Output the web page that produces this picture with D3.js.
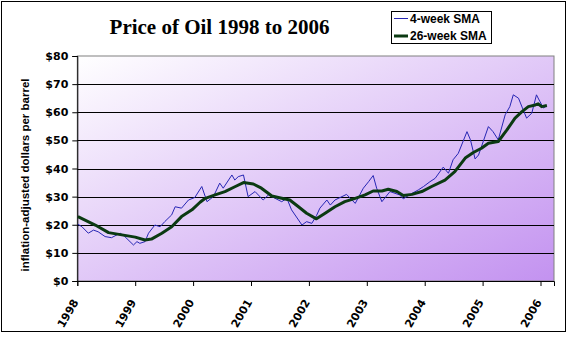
<!DOCTYPE html>
<html><head><meta charset="utf-8">
<script src="https://cdn.jsdelivr.net/npm/d3@7"></script>
<style>html,body{margin:0;padding:0;background:#fff;}svg{display:block;}</style>
</head><body>
<svg id="chart" width="569" height="337"></svg>
<script>
// ---- data ----
const titleText = "Price of Oil 1998 to 2006";
const yAxisTitle = "inflation-adjusted dollars per barrel";
const seriesNames = ["4-week SMA", "26-week SMA"];
const yearTicks = [1998, 1999, 2000, 2001, 2002, 2003, 2004, 2005, 2006];
const priceTicks = [0, 10, 20, 30, 40, 50, 60, 70, 80];

const sma4Years = [1998.01,1998.08,1998.19,1998.28,1998.36,1998.48,1998.59,1998.74,1998.82,1998.97,
  1999.03,1999.08,1999.17,1999.23,1999.34,1999.43,1999.51,1999.63,1999.69,1999.80,1999.92,
  2000.03,2000.15,2000.24,2000.35,2000.46,2000.52,2000.67,2000.72,2000.78,2000.87,2000.95,
  2001.07,2001.21,2001.30,2001.53,2001.62,2001.70,2001.88,2001.96,
  2002.05,2002.13,2002.19,2002.31,2002.37,2002.45,2002.65,2002.80,2002.94,
  2003.03,2003.11,2003.17,2003.26,2003.40,2003.57,2003.63,2003.75,2003.89,2003.98,
  2004.09,2004.18,2004.32,2004.41,2004.49,2004.58,2004.73,2004.79,2004.87,2004.93,
  2005.10,2005.18,2005.27,2005.39,2005.47,2005.53,2005.62,2005.70,2005.76,2005.85,2005.93,2005.99,
  2006.05,2006.11];
const sma4Values = [20.2,19.3,17.0,18.1,17.5,15.8,15.4,17.0,15.8,12.8,
  14.0,13.4,14.0,17.0,19.9,19.3,21.1,23.5,26.4,25.9,28.8,
  29.7,33.6,28.2,30.0,34.8,33.0,37.7,35.9,37.1,37.7,30.0,
  31.8,28.8,30.6,28.2,29.4,25.3,19.9,21.1,
  20.5,23.2,25.9,28.8,27.0,28.8,30.8,27.6,33.0,
  35.3,37.5,33.0,28.2,31.8,30.6,29.2,30.8,32.4,33.6,
  35.3,36.5,40.5,38.3,43.1,45.4,53.1,50.2,43.4,44.8,
  54.9,53.1,50.2,59.1,62.0,66.2,65.0,60.9,57.9,59.7,66.2,63.8,
  61.5,62.3];

const sma26Years = [1998.01,1998.31,1998.54,1998.77,1999.00,1999.17,1999.28,1999.46,1999.63,1999.80,1999.98,
  2000.12,2000.21,2000.38,2000.55,2000.73,2000.87,2001.04,2001.18,2001.36,2001.53,2001.67,2001.82,2001.96,
  2002.13,2002.28,2002.45,2002.62,2002.80,2002.97,2003.11,2003.26,2003.37,2003.52,2003.63,2003.78,2003.95,
  2004.12,2004.35,2004.52,2004.70,2004.84,2004.98,2005.10,2005.27,2005.42,2005.56,2005.68,2005.79,2005.91,
  2005.96,2006.02,2006.11];
const sma26Values = [22.9,19.9,17.2,16.4,15.6,14.6,14.9,17.0,19.3,22.9,25.3,
  28.0,29.4,30.6,31.8,33.6,35.0,34.5,33.0,30.2,29.4,28.8,26.4,24.1,
  22.1,24.1,26.4,28.2,29.4,30.6,32.0,32.0,32.6,31.8,30.4,30.8,31.8,
  33.6,35.9,38.9,43.7,45.7,47.2,49.0,49.6,53.7,57.9,60.2,62.0,62.6,
  63.0,62.0,62.4];

// ---- drawing ----
const svg = d3.select("#chart");
const plot = {left: 77.3, right: 554, top: 56, bottom: 281};
const x = d3.scaleLinear().domain([1998, 2006.233]).range([plot.left, plot.right]);
const y = d3.scaleLinear().domain([0, 80]).range([plot.bottom, plot.top]);

const defs = svg.append("defs");
const grad = defs.append("linearGradient").attr("id", "bg")
  .attr("x1", 0).attr("y1", 0).attr("x2", 1).attr("y2", 1);
grad.append("stop").attr("offset", "0%").attr("stop-color", "#ffffff");
grad.append("stop").attr("offset", "100%").attr("stop-color", "#c392f0");

// outer border
svg.append("rect").attr("x", 1.5).attr("y", 1.5).attr("width", 564).attr("height", 330)
  .attr("fill", "#fff").attr("stroke", "#000").attr("stroke-width", 1);

// plot area
svg.append("rect").attr("x", plot.left).attr("y", plot.top)
  .attr("width", plot.right - plot.left).attr("height", plot.bottom - plot.top)
  .attr("fill", "url(#bg)").attr("stroke", "#808080").attr("stroke-width", 1);

// gridlines
svg.append("g").selectAll("line").data(priceTicks.filter(d => d > 0 && d < 80)).join("line")
  .attr("x1", plot.left).attr("x2", plot.right)
  .attr("y1", d => Math.round(y(d)) + 0.5).attr("y2", d => Math.round(y(d)) + 0.5)
  .attr("stroke", "#000").attr("stroke-width", 1);

// y axis
const yAxis = svg.append("g").attr("transform", `translate(${plot.left},0)`)
  .call(d3.axisLeft(y).tickValues(priceTicks).tickSize(5).tickPadding(4).tickFormat(d => "$" + d));
yAxis.select(".domain").attr("stroke", "#000");
yAxis.selectAll("text").attr("font-family", "DejaVu Sans").attr("font-weight", "bold")
  .attr("font-size", "11px").attr("fill", "#000");

// x axis
const xAxis = svg.append("g").attr("transform", `translate(0,${plot.bottom})`)
  .call(d3.axisBottom(x).tickValues(yearTicks).tickSize(5).tickFormat(d3.format("d")));
xAxis.select(".domain").attr("stroke", "#000");
xAxis.selectAll("text").attr("font-family", "DejaVu Sans").attr("font-weight", "bold")
  .attr("font-size", "11px").attr("fill", "#000")
  .attr("text-anchor", "end").attr("dy", null).attr("y", null)
  .attr("transform", "translate(1,21) rotate(-60)");

// lines
const sma4 = sma4Years.map((t, i) => [t, sma4Values[i]]);
const sma26 = sma26Years.map((t, i) => [t, sma26Values[i]]);
const line = d3.line().x(d => x(d[0])).y(d => y(d[1]));
svg.append("path").datum(sma4).attr("d", line).attr("fill", "none")
  .attr("stroke", "#2626b4").attr("stroke-width", 1);
svg.append("path").datum(sma26).attr("d", line).attr("fill", "none")
  .attr("stroke", "#0b3a12").attr("stroke-width", 3).attr("stroke-linejoin", "round");

// title
svg.append("text").attr("x", 219.5).attr("y", 34).attr("text-anchor", "middle")
  .attr("font-family", "Liberation Serif").attr("font-weight", "bold").attr("font-size", "21px")
  .text(titleText);

// y axis title
svg.append("text").attr("transform", "translate(29,175) rotate(-90)").attr("text-anchor", "middle")
  .attr("font-family", "Liberation Sans").attr("font-weight", "bold").attr("font-size", "11.5px")
  .text(yAxisTitle);

// legend
const lg = svg.append("g");
lg.append("rect").attr("x", 391.5).attr("y", 11.5).attr("width", 100).attr("height", 32)
  .attr("fill", "#fff").attr("stroke", "#000");
const legendStyles = [{c: "#2626b4", w: 1}, {c: "#0b3a12", w: 3}];
seriesNames.forEach((n, i) => {
  const yy = 18.5 + i * 17.5;
  lg.append("line").attr("x1", 394).attr("x2", 408).attr("y1", yy).attr("y2", yy)
    .attr("stroke", legendStyles[i].c).attr("stroke-width", legendStyles[i].w);
  lg.append("text").attr("x", 410).attr("y", yy + 4.2)
    .attr("font-family", "Liberation Sans").attr("font-weight", "bold").attr("font-size", "12px")
    .text(n);
});
</script>
</body></html>
